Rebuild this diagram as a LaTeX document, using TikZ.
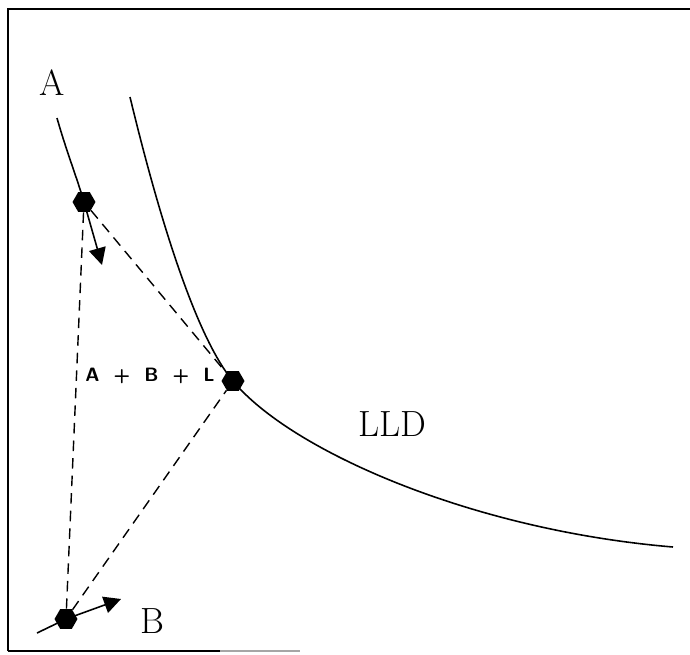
\documentclass[tikz,border=0pt]{standalone}
\usetikzlibrary{arrows.meta,shapes.geometric}

\begin{document}
\begin{tikzpicture}[x=0.02cm,y=-0.02cm,
  dot/.style={regular polygon,regular polygon sides=6,fill=black,inner sep=0pt,minimum size=0.46cm},
  path/.style={line width=0.9pt,draw=black},
  vel/.style={-{Triangle[length=0.34cm,width=0.34cm]},line width=0.9pt},
  link/.style={line width=0.8pt,dash pattern=on 6pt off 4pt},
  lab/.style={font=\huge,inner sep=1pt}]
\useasboundingbox (0,0) rectangle (690,654);
% frame
\draw[line width=1.4pt] (8,651) -- (8,9) -- (690,9);
\draw[line width=1.2pt] (8,651) -- (220,651);
\draw[line width=0.6pt,black!35] (220,651) -- (300,651);
% bodies
\node[dot] (pa) at (84,202) {};
\node[dot] (pl) at (233,381) {};
\node[dot] (pb) at (66,619) {};
\coordinate (astart) at (57,118);
\coordinate (bstart) at (37,633);
\coordinate (avel) at (102,265);
\coordinate (bvel) at (121,599);
\coordinate (lldtop) at (130,97);
\coordinate (lldend) at (673,547);
% trajectories
\draw[path] (astart) .. controls (66,150) and (77,178) .. (pa.center);
\draw[path] (bstart) -- (pb.center);
\draw[path] (lldtop) .. controls (150,180) and (190,330) .. (pl.center)
  .. controls (290,450) and (470,530) .. (lldend);
% velocities
\draw[vel] (pa.center) -- (avel);
\draw[vel] (pb.center) -- (bvel);
% triangle
\draw[link] (pa) -- (pl);
\draw[link] (pa) -- (pb);
\draw[link] (pb) -- (pl);
% labels
\node[lab] (la) at (52,83) {A};
\node[lab] (lb) at (152,621) {B};
\node[lab] (llld) at (392,424) {LLD};
\node[font=\sffamily\bfseries\fontsize{11}{13}\selectfont] (lsum) at (150,376) {A\ \ +\ \ B\ \ +\ \ L};
\end{tikzpicture}
\end{document}
